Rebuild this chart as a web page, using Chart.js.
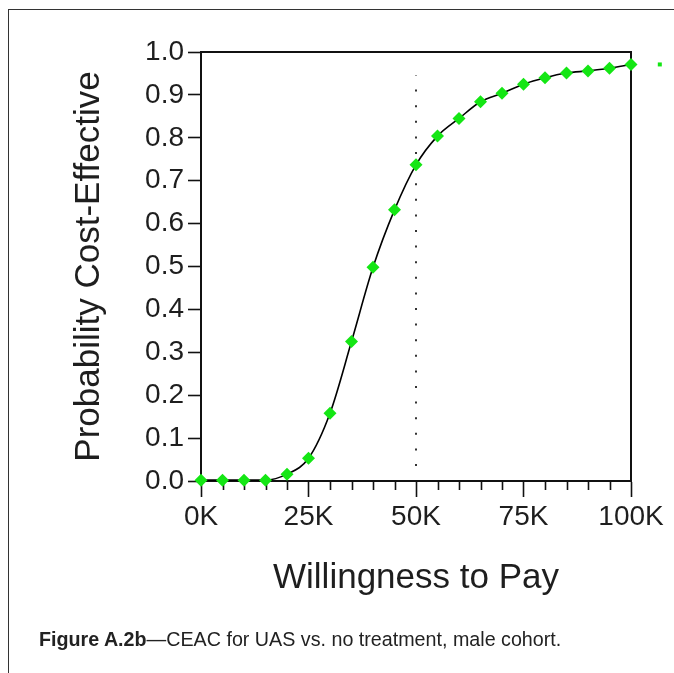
<!DOCTYPE html>
<html>
<head>
<meta charset="utf-8">
<title>CEAC for UAS vs. no treatment, male cohort</title>
<script src="https://cdn.jsdelivr.net/npm/chart.js@4/dist/chart.umd.min.js"></script>
<style>
  html, body { margin: 0; padding: 0; background: #fff; overflow: hidden; }
  #wrap { position: relative; width: 674px; height: 673px; }
  #frame {
    position: absolute; left: 8px; top: 9px; width: 720px; height: 720px;
    border-left: 1.5px solid #333; border-top: 1.5px solid #333;
  }
  canvas { position: absolute; left: 0; top: 0; }
  #caption {
    position: absolute; left: 39px; top: 628px;
    font-family: "Liberation Sans", Arial, sans-serif; font-size: 19.7px; color: #222;
    white-space: nowrap;
  }
  #caption b { font-weight: bold; }
</style>
</head>
<body>
<div id="wrap">
  <div id="frame"></div>
  <canvas id="chart" width="674" height="673"></canvas>
  <div id="caption"><b>Figure A.2b</b>—CEAC for UAS vs. no treatment, male cohort.</div>
</div>
<script>
// Willingness-to-pay thresholds ($ per unit of effect)
const wtp = [0, 5000, 10000, 15000, 20000, 25000, 30000, 35000, 40000, 45000, 50000,
             55000, 60000, 65000, 70000, 75000, 80000, 85000, 90000, 95000, 100000];
// Probability that UAS is cost-effective at each threshold
const probCostEffective = [0.002, 0.002, 0.002, 0.002, 0.016, 0.053, 0.158, 0.325, 0.498, 0.632, 0.737,
                           0.804, 0.845, 0.884, 0.904, 0.925, 0.940, 0.951, 0.956, 0.962, 0.971];
// Reference threshold shown as a dotted vertical marker
const thresholdWtp = 50000;
const thresholdSpan = [0.035, 0.945];
// Legend swatch peeking in just beyond the plot's right edge
const legendMarker = { x: 106700, y: 0.971 };
// Axis tick labels
const yTickLabels = ["0.0", "0.1", "0.2", "0.3", "0.4", "0.5", "0.6", "0.7", "0.8", "0.9", "1.0"];
const xTickLabels = { 0: "0K", 25000: "25K", 50000: "50K", 75000: "75K", 100000: "100K" };

const green = '#14e614';
const ink = '#1e1e1e';

const points = wtp.map((x, i) => ({ x, y: probCostEffective[i] }));

// Frame around the plot area, short minor ticks on the x axis, legend swatch
const framePlugin = {
  id: 'plotFrame',
  beforeDatasetsDraw(chart) {
    const { ctx, chartArea: a, scales } = chart;
    ctx.save();
    ctx.strokeStyle = '#111';
    ctx.lineWidth = 2;
    ctx.strokeRect(a.left, a.top, a.right - a.left, a.bottom - a.top);
    ctx.lineWidth = 1.6;
    ctx.beginPath();
    wtp.forEach(v => {
      if (v % 25000 !== 0) {
        const px = Math.round(scales.x.getPixelForValue(v)) + 0.5;
        ctx.moveTo(px, a.bottom);
        ctx.lineTo(px, a.bottom + 9);
      }
    });
    ctx.stroke();
    ctx.restore();
  },
  afterDatasetsDraw(chart) {
    const { ctx, scales } = chart;
    const px = scales.x.getPixelForValue(legendMarker.x);
    const py = scales.y.getPixelForValue(legendMarker.y);
    ctx.save();
    ctx.fillStyle = green;
    ctx.fillRect(px - 2, py - 2, 4, 4);
    ctx.restore();
  }
};

new Chart(document.getElementById('chart'), {
  type: 'scatter',
  data: {
    datasets: [
      {
        label: 'Threshold',
        data: [{ x: thresholdWtp, y: thresholdSpan[0] }, { x: thresholdWtp, y: thresholdSpan[1] }],
        showLine: true,
        borderColor: '#333',
        borderWidth: 2,
        borderDash: [2, 13.6],
        pointRadius: 0,
        order: 3
      },
      {
        label: 'CEAC curve',
        data: points,
        showLine: true,
        borderColor: '#000',
        borderWidth: 1.6,
        cubicInterpolationMode: 'monotone',
        pointRadius: 0,
        clip: false,
        order: 2
      },
      {
        label: 'UAS',
        data: points,
        showLine: false,
        pointStyle: 'rectRot',
        pointRadius: 6.5,
        pointBackgroundColor: green,
        pointBorderColor: green,
        pointBorderWidth: 0,
        clip: false,
        order: 1
      }
    ]
  },
  options: {
    responsive: false,
    animation: false,
    devicePixelRatio: 1,
    layout: { padding: { left: 0, top: 52, right: 43, bottom: 74 } },
    plugins: { legend: { display: false }, tooltip: { enabled: false } },
    scales: {
      x: {
        type: 'linear',
        min: 0, max: 100000,
        afterFit(scale) { scale.height = 118; },
        border: { display: true, color: '#111', width: 2 },
        grid: {
          drawOnChartArea: false,
          drawTicks: true,
          tickLength: 16,
          tickWidth: 1.6,
          tickColor: ctx => (ctx.tick && ctx.tick.value % 25000 === 0) ? '#111' : 'rgba(0,0,0,0)'
        },
        ticks: {
          stepSize: 5000,
          autoSkip: false,
          maxRotation: 0,
          padding: 3,
          color: ink,
          font: { family: '"Liberation Sans", Arial, sans-serif', size: 28 },
          callback: v => xTickLabels[v] !== undefined ? xTickLabels[v] : ''
        },
        title: {
          display: true,
          text: 'Willingness to Pay',
          color: ink,
          padding: { top: 0, bottom: 0 },
          font: { family: '"Liberation Sans", Arial, sans-serif', size: 35 }
        }
      },
      y: {
        min: 0, max: 1,
        afterFit(scale) { scale.width = 201; },
        border: { display: true, color: '#111', width: 2 },
        grid: {
          drawOnChartArea: false,
          drawTicks: true,
          tickLength: 13,
          tickWidth: 1.6,
          tickColor: '#111'
        },
        ticks: {
          stepSize: 0.1,
          padding: 4,
          color: ink,
          font: { family: '"Liberation Sans", Arial, sans-serif', size: 28 },
          callback: (v) => yTickLabels[Math.round(v * 10)]
        },
        title: {
          display: true,
          text: 'Probability Cost-Effective',
          color: ink,
          padding: { top: 68, bottom: 0 },
          font: { family: '"Liberation Sans", Arial, sans-serif', size: 35 }
        }
      }
    }
  },
  plugins: [framePlugin]
});
</script>
</body>
</html>
